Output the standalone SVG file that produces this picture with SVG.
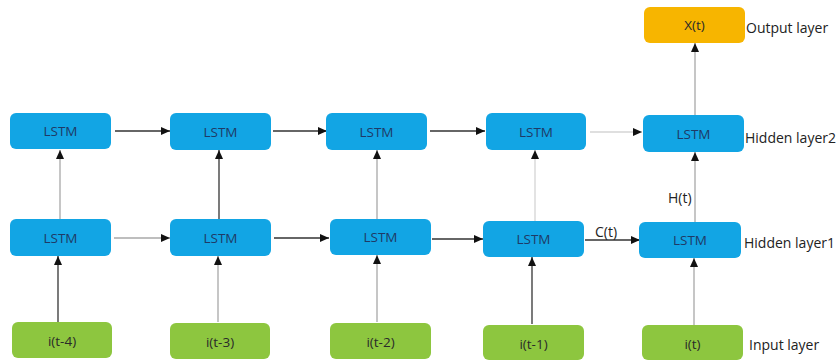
<svg xmlns="http://www.w3.org/2000/svg" width="840" height="360" viewBox="0 0 840 360">
<defs>
<marker id="ah" markerWidth="9" markerHeight="8" refX="9" refY="4" orient="auto" markerUnits="userSpaceOnUse">
<path d="M0,0 L9,4 L0,8 Z" fill="#111"/>
</marker>
<style>
.lstm{fill:#12a5e4}
.inp{fill:#8dc63f}
.out{fill:#f7b500}
.t{font-family:"Open Sans","Liberation Sans",sans-serif;font-size:13.5px;text-anchor:middle;dominant-baseline:central}
.tl{fill:#1f3a66}
.ti{fill:#2a2a2a}
.lab{font-family:"Open Sans","Liberation Sans",sans-serif;font-size:14px;fill:#222;dominant-baseline:central}
.c{fill:none;stroke-width:1.3;marker-end:url(#ah)}
.dk{stroke:#333}
.gy{stroke:#a8a8a8}
.lg{stroke:#d4d4d4}
</style>
</defs>
<rect width="840" height="360" fill="#fff"/>
<g id="connectors">
<line class="c dk" x1="115" y1="131" x2="170" y2="131"/>
<line class="c dk" x1="273" y1="131" x2="327" y2="131"/>
<line class="c dk" x1="430" y1="131" x2="485" y2="131"/>
<line class="c lg" x1="590" y1="132" x2="642" y2="132"/>
<line class="c gy" x1="114" y1="238" x2="170" y2="238"/>
<line class="c dk" x1="274" y1="238" x2="329" y2="238"/>
<line class="c dk" x1="432" y1="239" x2="483" y2="239"/>
<line class="c dk" x1="585" y1="240" x2="640" y2="240"/>
<line class="c gy" x1="60" y1="219" x2="60" y2="150"/>
<line class="c dk" x1="219" y1="220" x2="219" y2="150"/>
<line class="c gy" x1="377" y1="219" x2="377" y2="150"/>
<line class="c lg" x1="535" y1="221" x2="535" y2="150"/>
<line class="c gy" x1="695" y1="222" x2="695" y2="152"/>
<line class="c gy" x1="695" y1="115" x2="695" y2="43"/>
<line class="c dk" x1="58" y1="322" x2="58" y2="256"/>
<line class="c gy" x1="218" y1="322" x2="218" y2="256"/>
<line class="c gy" x1="377" y1="322" x2="377" y2="255"/>
<line class="c dk" x1="532" y1="324" x2="532" y2="257"/>
<line class="c gy" x1="694" y1="325" x2="694" y2="258"/>
<text class="lab" x="595" y="231">C(t)</text>
<text class="lab" x="668" y="197">H(t)</text>
</g>
<g id="out"><rect class="out" x="644" y="7" width="101" height="36" rx="6"/><text class="t ti" x="694.5" y="25">X(t)</text></g>
<g id="h2_1"><rect class="lstm" x="10" y="113" width="101" height="36" rx="6"/><text class="t tl" x="60.5" y="131">LSTM</text></g>
<g id="h2_2"><rect class="lstm" x="170" y="113" width="101" height="37" rx="6"/><text class="t tl" x="220.5" y="131.5">LSTM</text></g>
<g id="h2_3"><rect class="lstm" x="326" y="113" width="101" height="37" rx="6"/><text class="t tl" x="376.5" y="131.5">LSTM</text></g>
<g id="h2_4"><rect class="lstm" x="486" y="113" width="100" height="37" rx="6"/><text class="t tl" x="536" y="131.5">LSTM</text></g>
<g id="h2_5"><rect class="lstm" x="643" y="115" width="101" height="37" rx="6"/><text class="t tl" x="693.5" y="133.5">LSTM</text></g>
<g id="h1_1"><rect class="lstm" x="10" y="219" width="101" height="37" rx="6"/><text class="t tl" x="60.5" y="237.5">LSTM</text></g>
<g id="h1_2"><rect class="lstm" x="170" y="219" width="101" height="37" rx="6"/><text class="t tl" x="220.5" y="237.5">LSTM</text></g>
<g id="h1_3"><rect class="lstm" x="330" y="219" width="101" height="36" rx="6"/><text class="t tl" x="380.5" y="237">LSTM</text></g>
<g id="h1_4"><rect class="lstm" x="483" y="221" width="101" height="36" rx="6"/><text class="t tl" x="533.5" y="239">LSTM</text></g>
<g id="h1_5"><rect class="lstm" x="639" y="222" width="102" height="36" rx="6"/><text class="t tl" x="690" y="240">LSTM</text></g>
<g id="in_1"><rect class="inp" x="12" y="322" width="100" height="36" rx="6"/><text class="t ti" x="62" y="341">i(t-4)</text></g>
<g id="in_2"><rect class="inp" x="170" y="323" width="100" height="36" rx="6"/><text class="t ti" x="220" y="342">i(t-3)</text></g>
<g id="in_3"><rect class="inp" x="330" y="323" width="101" height="36" rx="6"/><text class="t ti" x="380.5" y="342">i(t-2)</text></g>
<g id="in_4"><rect class="inp" x="483" y="325" width="101" height="35" rx="6"/><text class="t ti" x="533.5" y="344">i(t-1)</text></g>
<g id="in_5"><rect class="inp" x="642" y="325" width="101" height="35" rx="6"/><text class="t ti" x="692.5" y="344">i(t)</text></g>
<text class="lab" x="746" y="27">Output layer</text>
<text class="lab" x="745" y="137">Hidden layer2</text>
<text class="lab" x="744" y="242">Hidden layer1</text>
<text class="lab" x="749" y="344">Input layer</text>
</svg>
